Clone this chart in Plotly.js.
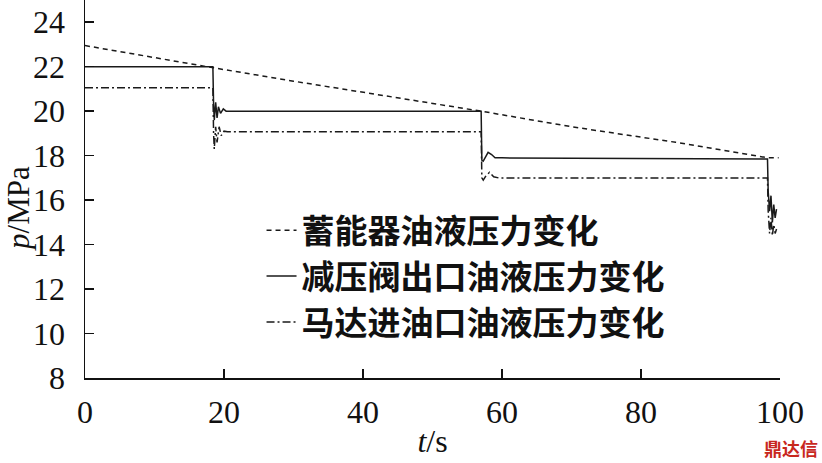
<!DOCTYPE html>
<html>
<head>
<meta charset="utf-8">
<script src="https://cdn.plot.ly/plotly-3.0.1.min.js"></script>
<style>html,body{margin:0;padding:0;background:#fff;}#chart{width:822px;height:463px;}</style>
</head>
<body>
<div id="chart"></div>
<script>
// Series names
const names = ["蓄能器油液压力变化", "减压阀出口油液压力变化", "马达进油口油液压力变化"];

// Accumulator pressure (dashed)
const tAcc = [0, 10, 18.5, 30, 45, 57, 70, 85, 98.3, 99.8];
const pAcc = [22.95, 22.4, 21.95, 21.35, 20.6, 20.0, 19.3, 18.6, 17.9, 17.9];

// Pressure-reducing valve outlet (solid)
const tVal = [0, 18.4, 18.5, 18.6, 18.8, 19.0, 19.2, 19.5, 19.9, 20.3, 57.0, 57.1, 57.3, 57.6, 58.0, 58.5, 59.0, 60.0, 98.2, 98.3, 98.5, 98.7, 98.9, 99.1, 99.3, 99.5];
const pVal = [22.0, 22.0, 20.3, 19.6, 20.4, 19.7, 20.2, 19.9, 20.1, 20.0, 20.0, 17.8, 17.75, 17.95, 18.15, 18.05, 17.9, 17.9, 17.85, 16.4, 15.5, 16.2, 15.0, 15.8, 15.2, 15.6];

// Motor inlet (dash-dot)
const tMot = [0, 18.4, 18.5, 18.6, 18.8, 19.0, 19.3, 19.6, 20.0, 20.5, 57.0, 57.1, 57.3, 57.7, 58.2, 58.8, 59.5, 98.2, 98.3, 98.5, 98.7, 98.9, 99.1, 99.3, 99.5];
const pMot = [21.05, 21.05, 19.0, 18.3, 19.3, 18.6, 19.3, 18.9, 19.1, 19.07, 19.07, 17.0, 16.9, 17.1, 17.25, 17.05, 17.0, 17.0, 15.5, 14.5, 15.2, 14.4, 14.9, 14.5, 14.7];

// Axis ticks
const xTicks = [0, 20, 40, 60, 80, 100];
const yTicks = [8, 10, 12, 14, 16, 18, 20, 22, 24];

const lineColor = "#1a1a1a";
const traces = [
  {x: tAcc, y: pAcc, name: names[0], mode: "lines", line: {color: lineColor, width: 1.5, dash: "5px,4px"}},
  {x: tVal, y: pVal, name: names[1], mode: "lines", line: {color: lineColor, width: 1.5}},
  {x: tMot, y: pMot, name: names[2], mode: "lines", line: {color: lineColor, width: 1.5, dash: "8px,3px,2px,3px"}}
];

const SERIF = "Liberation Serif";
function sf(size) { return {family: SERIF, size: size, color: "#111"}; }

const layout = {
  width: 822, height: 463,
  font: sf(30),
  margin: {l: 85, r: 42, t: 0, b: 85},
  paper_bgcolor: "#fff", plot_bgcolor: "#fff",
  showlegend: true,
  legend: {
    x: 0.254, xanchor: "left", y: 0.465, yanchor: "top",
    bgcolor: "rgba(0,0,0,0)",
    font: {family: "Noto Sans CJK SC", size: 33, weight: "bold", color: "#111"},
    tracegroupgap: 0
  },
  xaxis: {
    range: [0, 100], tickmode: "array", tickvals: xTicks,
    ticks: "inside", ticklen: 9, tickwidth: 1.5, tickcolor: "#111",
    showline: true, linecolor: "#111", linewidth: 1.5,
    showgrid: false, zeroline: false, tickfont: sf(32), ticklabelstandoff: 5,
    title: {text: "<i>t</i>/s", font: sf(32), standoff: 0}
  },
  yaxis: {
    range: [8, 25], tickmode: "array", tickvals: yTicks,
    ticks: "inside", ticklen: 9, tickwidth: 1.5, tickcolor: "#111",
    showline: true, linecolor: "#111", linewidth: 1.5,
    showgrid: false, zeroline: false, tickfont: sf(32), ticklabelstandoff: 12
  },
  annotations: [
    {text: "<i>p</i>/MPa", xref: "paper", yref: "paper", x: -0.095, y: 0.45, xanchor: "center", yanchor: "middle",
     textangle: -90, showarrow: false, font: sf(31)},
    {text: "鼎达信", xref: "paper", yref: "paper", x: 1.058, y: -0.185, xanchor: "right", yanchor: "middle",
     showarrow: false, font: {family: "Noto Sans CJK SC", size: 18, weight: "bold", color: "#c8281e"}}
  ]
};

Plotly.newPlot("chart", traces, layout, {staticPlot: true});
</script>
</body>
</html>
